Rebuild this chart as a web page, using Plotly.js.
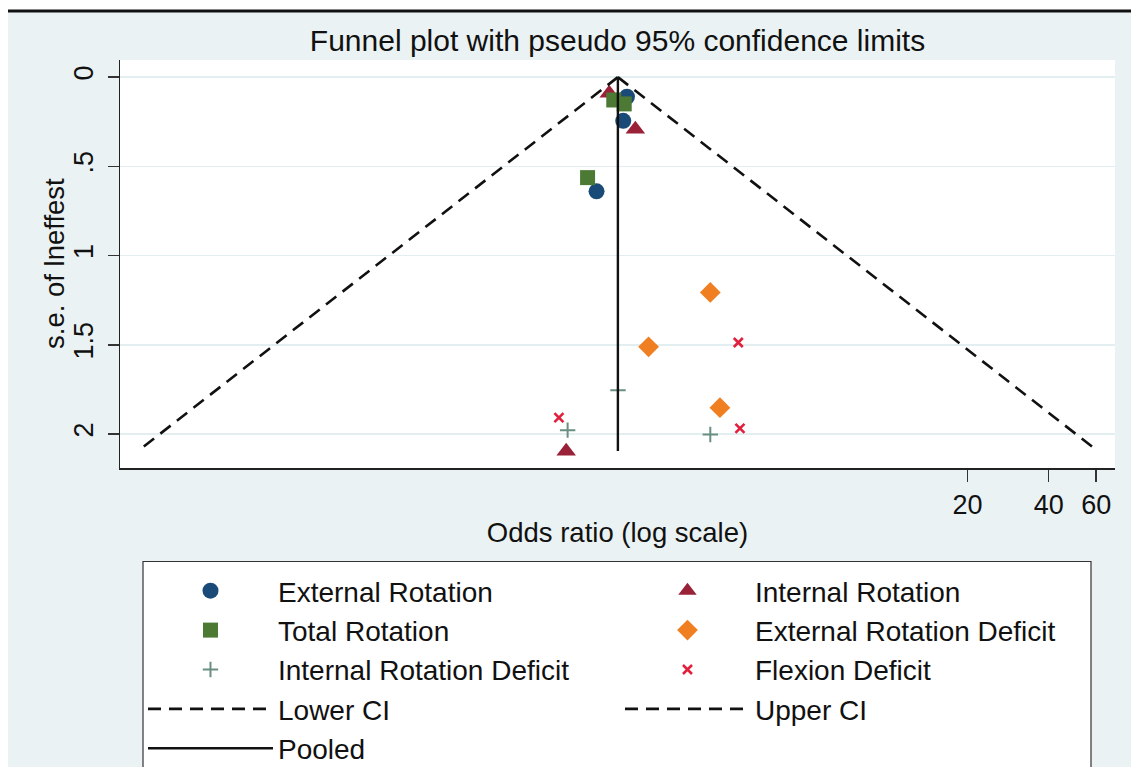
<!DOCTYPE html>
<html>
<head>
<meta charset="utf-8">
<script src="https://cdn.plot.ly/plotly-3.0.1.min.js"></script>
<style>html,body{margin:0;padding:0;background:#fff;}#chart{width:1131px;height:767px;}</style>
</head>
<body>
<div id="chart"></div>
<script>
// ---- data (odds ratio, standard error) ----
const extRotOR = [1.089, 1.055, 0.840];
const extRotSE = [0.110, 0.245, 0.640];
const intRotOR = [0.936, 1.170, 0.648];
const intRotSE = [0.090, 0.292, 2.096];
const totRotOR = [0.973, 1.064, 0.778];
const totRotSE = [0.128, 0.150, 0.563];
const erdOR = [2.22, 1.31, 2.41];
const erdSE = [1.206, 1.511, 1.852];
const irdOR = [1.009, 0.656, 2.22];
const irdSE = [1.755, 1.978, 2.002];
const flexOR = [2.82, 2.86, 0.609];
const flexSE = [1.487, 1.968, 1.908];

const ciSE = [0, 2.095];
const lowerCI = [1.008, 0.0167];
const upperCI = [1.008, 60.8];
const pooledOR = [1.008, 1.008];
const pooledSE = [0, 2.095];

const xTickVals = [20, 40, 60];
const xTickText = ['20', '40', '60'];
const yTickVals = [0, 0.5, 1, 1.5, 2];
const yTickText = ['0', '.5', '1', '1.5', '2'];

const FONT = '"Liberation Sans", Arial, Helvetica, sans-serif';

function pts(name, x, y, symbol, color, size, extra) {
  const m = Object.assign({symbol: symbol, color: color, size: size}, extra || {});
  return {type: 'scatter', mode: 'markers', name: name, x: x, y: y, marker: m, hoverinfo: 'x+y'};
}

const traces = [
  pts('External Rotation', extRotOR, extRotSE, 'circle', '#1A4A78', 16, {line: {width: 0}}),
  pts('Internal Rotation', intRotOR, intRotSE, 'triangle-up', '#9A2238', 17, {line: {width: 0}}),
  pts('Total Rotation', totRotOR, totRotSE, 'square', '#4C7A35', 15, {line: {width: 0}}),
  pts('External Rotation Deficit', erdOR, erdSE, 'diamond', '#F07F22', 16, {line: {width: 0}}),
  pts('Internal Rotation Deficit', irdOR, irdSE, 'cross-thin', '#6A8F80', 11, {line: {width: 2, color: '#6A8F80'}}),
  pts('Flexion Deficit', flexOR, flexSE, 'x-thin', '#E0203C', 9, {line: {width: 2.6, color: '#E0203C'}}),
  {type: 'scatter', mode: 'lines', name: 'Lower CI', x: lowerCI, y: ciSE,
   line: {color: '#111', width: 2.6, dash: '13px,8px'}},
  {type: 'scatter', mode: 'lines', name: 'Upper CI', x: upperCI, y: ciSE,
   line: {color: '#111', width: 2.6, dash: '13px,8px'}},
  {type: 'scatter', mode: 'lines', name: 'Pooled', x: pooledOR, y: pooledSE,
   line: {color: '#111', width: 2.4}}
];

const PH = 408, PW = 995; // plot area size in px
const layout = {
  width: 1131, height: 767,
  paper_bgcolor: '#EAF2F3',
  plot_bgcolor: '#FFFFFF',
  margin: {l: 120, r: 16, t: 60, b: 299, pad: 0, autoexpand: false},
  font: {family: FONT, size: 27, color: '#111'},
  title: {text: 'Funnel plot with pseudo 95% confidence limits',
          font: {family: FONT, size: 30, color: '#111'},
          x: 0.5, xref: 'paper', xanchor: 'center',
          y: 1 - 40 / 767, yref: 'container', yanchor: 'middle'},
  xaxis: {type: 'log', range: [-1.844, 1.848],
          tickvals: xTickVals, ticktext: xTickText,
          ticks: 'outside', ticklen: 12, tickwidth: 1.5, tickcolor: '#333',
          showline: true, linecolor: '#222', linewidth: 1.5, mirror: false,
          showgrid: false, zeroline: false,
          tickfont: {family: FONT, size: 27, color: '#111'},
          title: {text: 'Odds ratio (log scale)', font: {family: FONT, size: 27.5, color: '#111'}, standoff: 4}},
  yaxis: {range: [2.19, -0.096],
          tickvals: yTickVals, ticktext: yTickText, tickangle: -90,
          ticks: 'outside', ticklen: 11, tickwidth: 1.5, tickcolor: '#333',
          showline: true, linecolor: '#222', linewidth: 1.5,
          showgrid: true, gridcolor: '#E3EEF1', gridwidth: 1.5, zeroline: false,
          ticklabelstandoff: 4,
          tickfont: {family: FONT, size: 27, color: '#111'},
          title: {text: ''}},
  annotations: [
    {text: 's.e. of lneffest', xref: 'paper', yref: 'paper',
     x: (54 - 120) / PW, y: 0.5, xanchor: 'center', yanchor: 'middle',
     textangle: -90, showarrow: false, font: {family: FONT, size: 27.5, color: '#111'}}
  ],
  showlegend: true,
  legend: {orientation: 'h', x: 0.0231, xanchor: 'left', y: (468 - 566) / PH, yanchor: 'top',
           xref: 'paper', yref: 'paper', maxheight: 400,
           bgcolor: 'rgba(0,0,0,0)', bordercolor: '#333', borderwidth: 0,
           font: {family: FONT, size: 28, color: '#111'},
           itemwidth: 125, entrywidth: 337, entrywidthmode: 'pixels',
           traceorder: 'normal', itemclick: false, itemdoubleclick: false},
  shapes: [
    // legend frame (white box, cut off by the bottom edge as in the original)
    {type: 'rect', xref: 'paper', yref: 'paper',
     x0: (143 - 120) / PW, x1: (1091 - 120) / PW, y0: (468 - 790) / PH, y1: (468 - 561.5) / PH,
     fillcolor: '#FFFFFF', line: {color: '#333', width: 1.2}, layer: 'above'},
    // white strip + black rule at the very top, white strip at the left
    {type: 'rect', xref: 'paper', yref: 'paper', x0: -0.2, x1: 1.2, y0: 1 + 50/PH, y1: 1 + 49/PH + 0.2,
     fillcolor: '#FFFFFF', line: {width: 0}, layer: 'above'},
    {type: 'line', xref: 'paper', yref: 'paper', x0: (8 - 120)/PW, x1: 1.2, y0: 1 + 49/PH, y1: 1 + 49/PH,
     line: {color: '#111', width: 3}, layer: 'above'},
    {type: 'rect', xref: 'paper', yref: 'paper', x0: -0.2, x1: (8 - 120)/PW, y0: -1, y1: 1.2,
     fillcolor: '#FFFFFF', line: {width: 0}, layer: 'above'}
  ]
};

Plotly.newPlot('chart', traces, layout, {displayModeBar: false, staticPlot: true});
</script>
</body>
</html>
